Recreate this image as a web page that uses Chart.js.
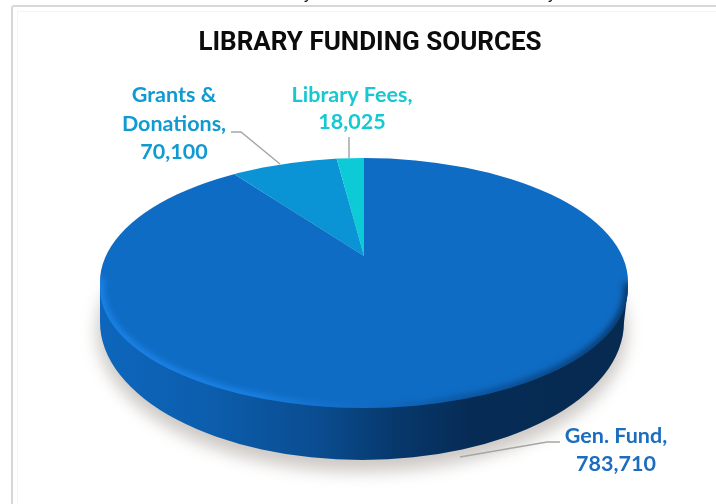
<!DOCTYPE html>
<html>
<head>
<meta charset="utf-8">
<title>Library Funding Sources</title>
<script src="https://cdn.jsdelivr.net/npm/chart.js@4"></script>
<style>
  html, body { margin: 0; padding: 0; background: #fff; }
  canvas { display: block; }
</style>
</head>
<body>
<canvas id="funding" width="716" height="504"></canvas>
<script>
const categories = ['Gen. Fund', 'Grants & Donations', 'Library Fees'];
const amounts = [783710, 70100, 18025];
const sliceColors = ['#0f6cc4', '#0a94d6', '#0ccad6'];
const labelColors = ['#1c6dbd', '#109ad2', '#16c8d2'];

// the flat pie is tilted back: top face, wall height, and where the slices meet
const apex = { x: 364, y: 256 };
const face = { x: 364, y: 282, rx: 264, ry: 124, lowY: 288, lowRy: 120 };
const foot = { x: 362, y: 322, rx: 262, ry: 138 };
const tilt = 0.465;

// label layout: lines per slice, centre x, first baseline y, line step
const labelLayout = [
  { lines: (n, v) => [n + ',', v], x: 616, y: 443, step: 28 },
  { lines: (n, v) => ['Grants &', 'Donations,', v], x: 174, y: 102, step: 28.5 },
  { lines: (n, v) => [n + ',', v], x: 352, y: 102, step: 27 }
];
const leaders = [
  [[560, 442], [547, 442], [460, 457]],
  [[231, 132], [241, 132], [280, 164]],
  [[349, 137], [349, 158]]
];

function ellipsePath(ctx, e) {
  ctx.beginPath();
  ctx.ellipse(e.x, e.y, e.rx, e.ry, 0, 0, Math.PI * 2);
}

// top half is a little shallower than the bottom half because of the perspective
function facePath(ctx) {
  ctx.beginPath();
  ctx.ellipse(face.x, face.y, face.rx, face.ry, 0, Math.PI, Math.PI * 2);
  ctx.ellipse(face.x, face.lowY, face.rx, face.lowRy, 0, 0, Math.PI);
  ctx.closePath();
}

const pie3d = {
  id: 'pie3d',
  beforeDraw(chart) {
    const ctx = chart.ctx;
    ctx.save();
    // panel edge, and the bit of text cut off above it
    ctx.fillStyle = '#111';
    ctx.font = '16px "Liberation Sans"';
    ctx.textAlign = 'center';
    ctx.fillText('y', 308, -1);
    ctx.fillText('y', 552, -1);
    ctx.strokeStyle = '#d8d8d8';
    ctx.lineWidth = 2;
    ctx.beginPath();
    ctx.moveTo(12, 504);
    ctx.lineTo(12, 8);
    ctx.quadraticCurveTo(12, 6, 14, 6);
    ctx.lineTo(716, 6);
    ctx.stroke();
    ctx.strokeStyle = '#f4f4f4';
    ctx.lineWidth = 1;
    ctx.strokeRect(17.5, 11.5, 720, 520);

    // soft shadow under the disc
    ctx.save();
    ctx.filter = 'blur(8px)';
    ctx.fillStyle = 'rgba(155,148,140,0.5)';
    ellipsePath(ctx, { x: foot.x, y: foot.y + 9, rx: foot.rx + 3, ry: foot.ry + 3 });
    ctx.fill();
    ctx.restore();

    // wall of the disc
    const wall = ctx.createLinearGradient(face.x - face.rx, 0, face.x + face.rx, 0);
    wall.addColorStop(0, '#0d66bc');
    wall.addColorStop(0.2, '#0c5eae');
    wall.addColorStop(0.42, '#0a4c8f');
    wall.addColorStop(0.56, '#07386c');
    wall.addColorStop(0.7, '#062c56');
    wall.addColorStop(1, '#062a50');
    ctx.fillStyle = wall;
    ctx.beginPath();
    ctx.moveTo(face.x - face.rx, face.lowY);
    ctx.lineTo(foot.x - foot.rx, foot.y);
    ctx.ellipse(foot.x, foot.y, foot.rx, foot.ry, 0, Math.PI, 0, true);
    ctx.lineTo(face.x + face.rx, face.lowY);
    ctx.closePath();
    ctx.fill();
    ctx.restore();
  },
  beforeDatasetDraw(chart) {
    const ctx = chart.ctx;
    const arc = chart.getDatasetMeta(0).data[0];
    ctx.save();
    facePath(ctx);
    ctx.clip();
    ctx.translate(apex.x, apex.y);
    ctx.scale(1, tilt);
    ctx.translate(-arc.x, -arc.y);
  },
  afterDatasetDraw(chart) {
    const ctx = chart.ctx;
    ctx.restore();

    // rounded rim of the top face: light on the left, dark on the right
    ctx.save();
    facePath(ctx);
    ctx.clip();
    const rim = ctx.createLinearGradient(face.x - face.rx, 0, face.x + face.rx, 0);
    rim.addColorStop(0, 'rgba(28,134,236,0.95)');
    rim.addColorStop(0.3, 'rgba(28,134,236,0.9)');
    rim.addColorStop(0.5, 'rgba(20,110,200,0.4)');
    rim.addColorStop(0.68, 'rgba(8,60,120,0.5)');
    rim.addColorStop(1, 'rgba(6,46,90,0.9)');
    ctx.filter = 'blur(3px)';
    ctx.strokeStyle = rim;
    ctx.lineWidth = 8;
    ctx.beginPath();
    ctx.ellipse(face.x, face.lowY, face.rx, face.lowRy, 0, -0.04, Math.PI + 0.08);
    ctx.stroke();
    ctx.restore();
  },
  afterDraw(chart) {
    const ctx = chart.ctx;
    ctx.save();
    ctx.strokeStyle = '#a6a6a6';
    ctx.lineWidth = 1.5;
    leaders.forEach(pts => {
      ctx.beginPath();
      pts.forEach((p, i) => i ? ctx.lineTo(p[0], p[1]) : ctx.moveTo(p[0], p[1]));
      ctx.stroke();
    });
    ctx.font = 'bold 21.5px Lato';
    ctx.textAlign = 'center';
    labelLayout.forEach((l, i) => {
      ctx.fillStyle = labelColors[i];
      l.lines(categories[i], amounts[i].toLocaleString('en-US')).forEach((t, j) => {
        ctx.fillText(t, l.x, l.y + j * l.step);
      });
    });
    ctx.restore();
  }
};

new Chart(document.getElementById('funding'), {
  type: 'pie',
  data: {
    labels: categories,
    datasets: [{
      data: amounts,
      backgroundColor: sliceColors,
      borderWidth: 0,
      radius: 380,
      clip: false
    }]
  },
  options: {
    responsive: false,
    animation: false,
    layout: { padding: { left: 24 } },
    plugins: {
      legend: { display: false },
      tooltip: { enabled: false },
      title: {
        display: true,
        text: 'LIBRARY FUNDING SOURCES',
        color: '#0c0c0c',
        font: { family: 'Roboto', size: 26, weight: 'bold' },
        padding: { top: 28, bottom: 0 }
      }
    }
  },
  plugins: [pie3d]
});
</script>
</body>
</html>
